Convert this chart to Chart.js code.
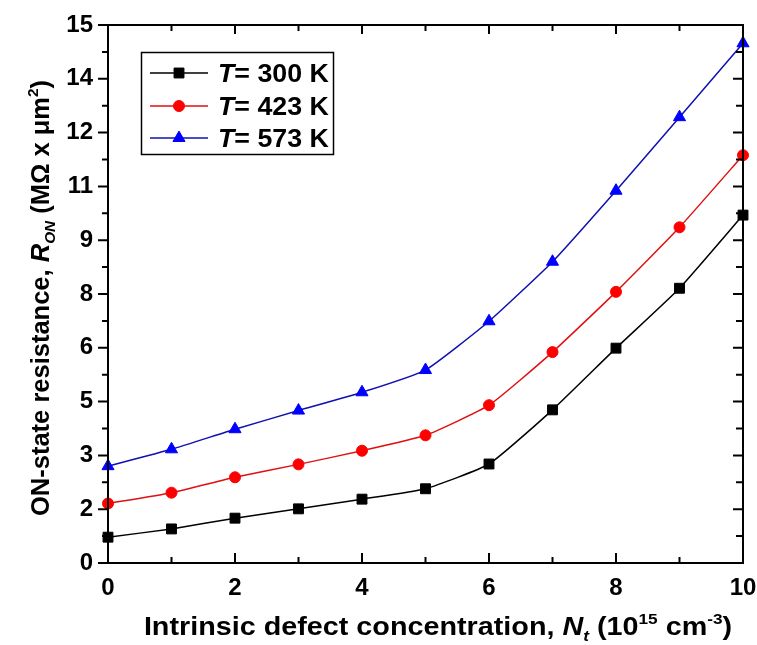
<!DOCTYPE html>
<html lang="en">
<head>
    <meta charset="UTF-8">
    <title>ON-state resistance vs defect concentration</title>
    <script src="https://cdn.jsdelivr.net/npm/chart.js"></script>
    <style>
        html, body { margin: 0; padding: 0; background: #fff; }
        #wrap { width: 757px; height: 645px; }
    </style>
</head>
<body>
    <div id="wrap"><canvas id="ronChart" width="757" height="645"></canvas></div>

    <script>
        // Data
        const defectConc = [0, 1, 2, 3, 4, 5, 6, 7, 8, 9, 10];
        const ron300 = [0.72, 0.95, 1.25, 1.51, 1.78, 2.07, 2.76, 4.27, 5.99, 7.66, 9.70];
        const ron423 = [1.66, 1.96, 2.39, 2.75, 3.13, 3.56, 4.40, 5.88, 7.56, 9.36, 11.37];
        const ron573 = [2.70, 3.17, 3.73, 4.25, 4.76, 5.38, 6.74, 8.40, 10.38, 12.43, 14.49];
        const seriesLabels = ['300 K', '423 K', '573 K'];

        const FONT = '"Liberation Sans", Arial, sans-serif';

        function toPoints(ys) {
            return defectConc.map((x, i) => ({ x: x, y: ys[i] }));
        }

        // draws a row of text pieces with different fonts / offsets, centred on x
        function drawRuns(ctx, runs, x, y, stretch) {
            stretch = stretch || 1;
            let total = 0;
            runs.forEach(r => { ctx.font = r.font; total += ctx.measureText(r.t).width; });
            ctx.save();
            ctx.translate(x, y);
            ctx.scale(stretch, 1);
            let cx = -total / 2;
            ctx.textAlign = 'left';
            ctx.textBaseline = 'alphabetic';
            runs.forEach(r => {
                ctx.font = r.font;
                ctx.fillText(r.t, cx, r.dy || 0);
                cx += ctx.measureText(r.t).width;
            });
            ctx.restore();
        }

        const framePlugin = {
            id: 'frame',
            afterDraw(chart) {
                const ctx = chart.ctx;
                const a = chart.chartArea;
                const xs = chart.scales.x, ys = chart.scales.y;
                ctx.save();
                ctx.strokeStyle = '#000';
                ctx.fillStyle = '#000';

                // ticks (major + minor)
                ctx.lineWidth = 2;
                ctx.beginPath();
                for (let v = 0; v <= 10; v += 1) {
                    const px = xs.getPixelForValue(v);
                    const major = v % 2 === 0;
                    const lb = major ? 10 : 6, lt = major ? 9 : 6;
                    ctx.moveTo(px, a.bottom); ctx.lineTo(px, a.bottom - lb);
                    ctx.moveTo(px, a.top); ctx.lineTo(px, a.top + lt);
                }
                for (let k = 0; k <= 20; k++) {
                    const py = ys.getPixelForValue(k * 0.75);
                    const major = k % 2 === 0;
                    ctx.moveTo(a.left, py); ctx.lineTo(a.left - (major ? 10 : 6), py);
                    ctx.moveTo(a.right, py); ctx.lineTo(a.right - (major ? 10 : 7), py);
                }
                ctx.stroke();

                // frame
                ctx.lineWidth = 2;
                ctx.strokeRect(a.left, a.top, a.right - a.left, a.bottom - a.top);

                // axis titles
                const big = 'bold 25px ' + FONT, bigI = 'italic bold 25px ' + FONT;
                const sm = 'bold 15px ' + FONT, smI = 'italic bold 15px ' + FONT;
                drawRuns(ctx, [
                    { t: 'Intrinsic defect concentration, ', font: big },
                    { t: 'N', font: bigI },
                    { t: 't', font: smI, dy: 6 },
                    { t: ' (10', font: big },
                    { t: '15', font: sm, dy: -11 },
                    { t: ' cm', font: big },
                    { t: '-3', font: sm, dy: -11 },
                    { t: ')', font: big }
                ], 438, 635, 1.15);

                ctx.save();
                ctx.translate(49, 298);
                ctx.rotate(-Math.PI / 2);
                const ybig = 'bold 25px ' + FONT, ybigI = 'italic bold 25px ' + FONT;
                const ysm = 'bold 15px ' + FONT, ysmI = 'italic bold 15px ' + FONT;
                drawRuns(ctx, [
                    { t: 'ON-state resistance, ', font: ybig },
                    { t: 'R', font: ybigI },
                    { t: 'ON', font: ysmI, dy: 6 },
                    { t: ' (M\u03A9 x \u03BCm', font: ybig },
                    { t: '2', font: ysm, dy: -11 },
                    { t: ')', font: ybig }
                ], 0, 0, 1.02);
                ctx.restore();

                // legend box
                ctx.lineWidth = 1.5;
                ctx.strokeRect(141.5, 52.5, 192, 102);
                const rows = [73, 106, 138];
                chart.data.datasets.forEach((ds, i) => {
                    const y = rows[i];
                    ctx.strokeStyle = ds.borderColor;
                    ctx.lineWidth = ds.borderWidth;
                    ctx.beginPath();
                    ctx.moveTo(150, y); ctx.lineTo(208, y);
                    ctx.stroke();
                    ctx.fillStyle = ds.pointBackgroundColor;
                    ctx.strokeStyle = ds.pointBorderColor;
                    ctx.lineWidth = 1;
                    Chart.helpers.drawPoint(ctx, {
                        pointStyle: ds.pointStyle,
                        radius: ds.pointRadius,
                        rotation: 0,
                        borderWidth: 1
                    }, 179, y);
                    ctx.fillStyle = '#000';
                    ctx.textBaseline = 'alphabetic';
                    ctx.textAlign = 'left';
                    ctx.save();
                    ctx.translate(218, y + 9);
                    ctx.scale(1.07, 1);
                    ctx.font = 'italic bold 25px ' + FONT;
                    ctx.fillText('T', 0, 0);
                    const tw = ctx.measureText('T').width;
                    ctx.font = 'bold 25px ' + FONT;
                    ctx.fillText('= ' + seriesLabels[i], tw, 0);
                    ctx.restore();
                });
                ctx.restore();
            }
        };

        function series(label, ys, line, fill, style, r) {
            return {
                label: label,
                data: toPoints(ys),
                borderColor: line,
                borderWidth: 1.5,
                backgroundColor: fill,
                pointBackgroundColor: fill,
                pointBorderColor: fill,
                pointStyle: style,
                pointRadius: r,
                pointBorderWidth: 1,
                tension: 0.15,
                clip: false
            };
        }

        const ctx = document.getElementById('ronChart').getContext('2d');
        new Chart(ctx, {
            type: 'line',
            data: {
                datasets: [
                    series('T = 300 K', ron300, '#000000', '#000000', 'rect', 7),
                    series('T = 423 K', ron423, '#e01010', '#ff0000', 'circle', 5.5),
                    series('T = 573 K', ron573, '#1010b0', '#0000ff', 'triangle', 7)
                ]
            },
            options: {
                responsive: false,
                animation: false,
                layout: { padding: { left: 8, right: 14, top: 25, bottom: 32 } },
                plugins: { legend: { display: false }, tooltip: { enabled: false } },
                scales: {
                    x: {
                        type: 'linear', min: 0, max: 10,
                        grid: { display: false, drawTicks: false },
                        border: { display: false },
                        ticks: {
                            stepSize: 2, padding: 11, color: '#000',
                            font: { family: FONT, size: 24, weight: 'bold' }
                        },
                        afterFit: s => { s.height = 50; s.paddingLeft = 0; s.paddingRight = 0; }
                    },
                    y: {
                        min: 0, max: 15,
                        grid: { display: false, drawTicks: false },
                        border: { display: false },
                        ticks: {
                            stepSize: 1.5, padding: 15, color: '#000',
                            font: { family: FONT, size: 24, weight: 'bold' },
                            callback: v => Math.round(v)
                        },
                        afterFit: s => { s.width = 100; s.paddingTop = 0; s.paddingBottom = 0; }
                    }
                }
            },
            plugins: [framePlugin]
        });
    </script>
</body>
</html>
